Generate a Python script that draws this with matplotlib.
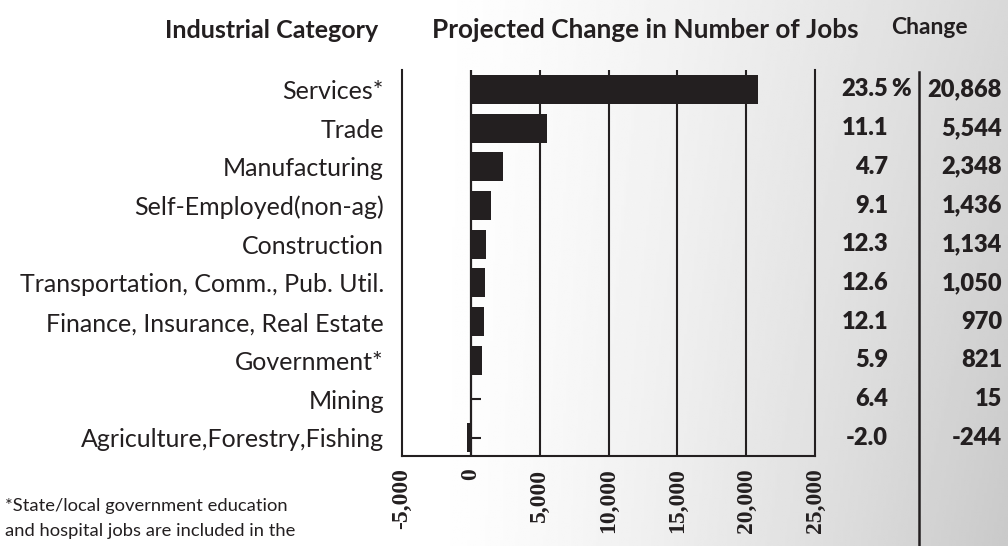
import numpy as np
import matplotlib
matplotlib.use('Agg')
import matplotlib.pyplot as plt
from matplotlib.lines import Line2D
from matplotlib.transforms import blended_transform_factory

categories = ['Services*', 'Trade', 'Manufacturing', 'Self-Employed(non-ag)', 'Construction',
              'Transportation, Comm., Pub. Util.', 'Finance, Insurance, Real Estate',
              'Government*', 'Mining', 'Agriculture,Forestry,Fishing']
job_change = [20868, 5544, 2348, 1436, 1134, 1050, 970, 821, 15, -244]
pct_change = ['23.5', '11.1', '4.7', '9.1', '12.3', '12.6', '12.1', '5.9', '6.4', '-2.0']
x_ticks = [-5000, 0, 5000, 10000, 15000, 20000, 25000]

INK = '#231f20'
W, H = 1008, 546

fig = plt.figure(figsize=(W / 100, H / 100), dpi=100)

# soft grey backdrop, white on the left, darker to the right
bg = fig.add_axes([0, 0, 1, 1], zorder=-10)
gx, gy = np.meshgrid(np.linspace(0, 1, 400), np.linspace(0, 1, 220))
t = np.clip((gx - 0.42) / 0.58, 0, 1)
shade = 1 - (0.15 + 0.06 * gy) * t ** 1.3
bg.imshow(shade, cmap='gray', vmin=0, vmax=1, aspect='auto', extent=[0, 1, 1, 0])
bg.axis('off')

ax = fig.add_axes([402 / W, 1 - 456 / H, 413 / W, 386 / H])
ax.patch.set_alpha(0)
y = np.arange(len(categories))

ax.scatter([0] * len(y), y, marker=1, s=52, color=INK, linewidths=1.5, zorder=2)
ax.barh(y, job_change, height=0.75, color=INK, zorder=3)
ax.axvline(0, color=INK, lw=1.6, zorder=2)
for xv in x_ticks[2:-1]:
    ax.axvline(xv, color=INK, lw=1.5, zorder=1)

ax.set_xlim(x_ticks[0], x_ticks[-1])
ax.set_ylim(len(categories) - 0.53, -0.5)
for side in ['left', 'bottom', 'right']:
    ax.spines[side].set_color(INK)
    ax.spines[side].set_linewidth(1.5)
ax.spines['top'].set_visible(False)

ax.set_yticks(y)
ax.set_yticklabels(categories, fontsize=18, family='Lato', color=INK)
ax.tick_params(axis='y', length=0, pad=13)
ax.set_xticks(x_ticks)
ax.set_xticklabels([f'{v:,}' for v in x_ticks], rotation=90, fontsize=17,
                   family='Liberation Serif', fontweight='bold', color=INK)
ax.tick_params(axis='x', length=0, pad=9)

# headers
hdr = dict(family='Lato', fontweight='bold', color=INK, va='center')
fig.text(272 / W, 1 - 30 / H, 'Industrial Category', ha='center', fontsize=18, **hdr)
fig.text(645 / W, 1 - 30 / H, 'Projected Change in Number of Jobs', ha='center',
         fontsize=18.8, **hdr)
fig.text(929 / W, 1 - 27 / H, 'Change', ha='center', fontsize=16.5, **hdr)

# table on the right
tbl = dict(fontsize=17, family='Lato', fontweight='heavy', color=INK, va='center',
           transform=blended_transform_factory(fig.transFigure, ax.transData))
for i in range(len(categories)):
    ax.text(888 / W, i, pct_change[i], ha='right', **tbl)
    ax.text(1002 / W, i, f'{job_change[i]:,}', ha='right', **tbl)
ax.text(891 / W, 0, '%', ha='left', **tbl)

fig.add_artist(Line2D([919 / W, 919 / W], [1 - 72 / H, 0], color=INK, lw=1.8))

# footnote
foot = dict(fontsize=13.2, family='Lato', color=INK, va='center')
fig.text(5 / W, 1 - 506 / H, '*State/local government education', **foot)
fig.text(5 / W, 1 - 531 / H, 'and hospital jobs are included in the', **foot)

fig.savefig('out.png', dpi=100)
